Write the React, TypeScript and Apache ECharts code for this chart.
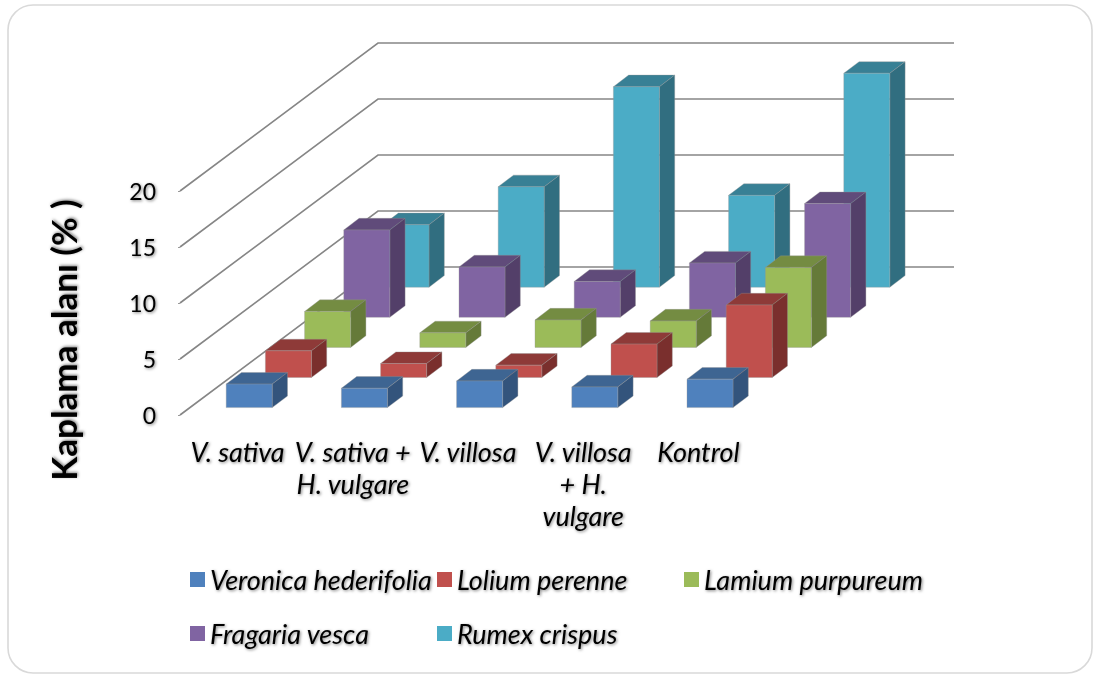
import React, { useEffect, useRef } from "react";
import * as echarts from "echarts";

const categories = [
  "V. sativa",
  "V. sativa +\nH. vulgare",
  "V. villosa",
  "V. villosa\n+ H.\nvulgare",
  "Kontrol",
];
const yTicks = [0, 5, 10, 15, 20];
const seriesNames = [
  "Veronica hederifolia",
  "Lolium perenne",
  "Lamium purpureum",
  "Fragaria vesca",
  "Rumex crispus",
];
const veronica = [2.1, 1.73, 2.38, 1.85, 2.54];
const lolium = [2.38, 1.25, 1.1, 2.98, 6.48];
const lamium = [3.21, 1.3, 2.45, 2.36, 7.14];
const fragaria = [7.8, 4.5, 3.2, 4.85, 10.15];
const rumex = [5.58, 8.97, 17.9, 8.2, 19.1];
const seriesValues = [veronica, lolium, lamium, fragaria, rumex];

const frontColors = ["#4f81bd", "#c0504d", "#9bbb59", "#8064a2", "#4bacc6"];
const topColors = ["#3e6592", "#8e3a38", "#748c42", "#604b7a", "#388095"];
const sideColors = ["#33547c", "#7a2f2d", "#657a39", "#533f69", "#316e80"];

const FONT = "Lato, Carlito, 'Open Sans', sans-serif";
const shadow = {
  textShadowColor: "rgba(0,0,0,0.5)",
  textShadowBlur: 3,
  textShadowOffsetX: 1,
  textShadowOffsetY: 1,
};

// projection of the depth axis, in pixels
const WALL_DX = 198;
const WALL_DY = -148;
const ROW_DX = 39.2;
const ROW_DY = -30.1;
const FIRST_DX = 11.6;
const FIRST_DY = -7.4;
const BAR_W = 46;
const BAR_DX = 15.3;
const BAR_DY = -11.6;

const edge = "rgba(150,150,150,0.35)";

function wallItem(params: any, api: any) {
  const p = api.coord([0, api.value(1)]);
  const x0 = params.coordSys.x;
  const w = params.coordSys.width;
  return {
    type: "polyline",
    silent: true,
    shape: {
      points: [
        [x0, p[1]],
        [x0 + WALL_DX, p[1] + WALL_DY],
        [x0 + WALL_DX + w, p[1] + WALL_DY],
      ],
    },
    style: { stroke: "#868686", lineWidth: 1.6, fill: "none" },
  };
}

function barItem(row: number) {
  return (_params: any, api: any) => {
    const cat = api.value(0);
    const base = api.coord([cat, 0]);
    const top = api.coord([cat, api.value(1)]);
    const xl = base[0] + FIRST_DX + ROW_DX * row - BAR_W / 2;
    const xr = xl + BAR_W;
    const yb = base[1] + FIRST_DY + ROW_DY * row;
    const yt = top[1] + FIRST_DY + ROW_DY * row;
    const poly = (points: number[][], fill: string) => ({
      type: "polygon",
      silent: true,
      shape: { points },
      style: { fill, stroke: edge, lineWidth: 1 },
    });
    return {
      type: "group",
      children: [
        poly(
          [
            [xl, yt],
            [xr, yt],
            [xr + BAR_DX, yt + BAR_DY],
            [xl + BAR_DX, yt + BAR_DY],
          ],
          topColors[row]
        ),
        poly(
          [
            [xr, yt],
            [xr + BAR_DX, yt + BAR_DY],
            [xr + BAR_DX, yb + BAR_DY],
            [xr, yb],
          ],
          sideColors[row]
        ),
        poly(
          [
            [xl, yt],
            [xr, yt],
            [xr, yb],
            [xl, yb],
          ],
          frontColors[row]
        ),
      ],
    };
  };
}

const legendSlots = [
  { left: 190, top: 566 },
  { left: 437, top: 566 },
  { left: 684, top: 566 },
  { left: 190, top: 620 },
  { left: 437, top: 620 },
];

export default function App() {
  const ref = useRef<HTMLDivElement>(null);
  useEffect(() => {
    document.body.style.margin = "0";
    const chart = echarts.init(ref.current!, undefined, { renderer: "svg" });
    chart.setOption({
      animation: false,
      backgroundColor: "#ffffff",
      grid: { left: 180, top: 191, width: 576, height: 224 },
      xAxis: {
        type: "category",
        data: categories,
        axisLine: { show: false },
        axisTick: { show: false },
        axisLabel: {
          interval: 0,
          margin: 20,
          fontFamily: FONT,
          fontStyle: "italic",
          fontSize: 27,
          lineHeight: 32,
          color: "#000",
          ...shadow,
        },
      },
      yAxis: {
        type: "value",
        min: 0,
        max: 20,
        interval: 5,
        name: "Kaplama alanı (% )",
        nameLocation: "middle",
        nameRotate: 90,
        nameGap: 100,
        nameTextStyle: {
          fontFamily: FONT,
          fontWeight: "bold",
          fontSize: 35,
          color: "#000",
          padding: [0, 74, 0, 0],
          ...shadow,
        },
        axisLine: { show: false },
        axisTick: { show: true, length: 2, lineStyle: { color: "#999" } },
        splitLine: { show: false },
        axisLabel: {
          margin: 24,
          fontFamily: FONT,
          fontSize: 23,
          color: "#000",
          padding: [13, 0, 0, 0],
          ...shadow,
        },
      },
      legend: seriesNames.map((name, i) => ({
        data: [name],
        left: legendSlots[i].left,
        top: legendSlots[i].top,
        padding: 0,
        itemWidth: 15,
        itemHeight: 15,
        icon: "rect",
        selectedMode: false,
        textStyle: {
          fontFamily: FONT,
          fontStyle: "italic",
          fontSize: 27,
          color: "#000",
          ...shadow,
        },
      })),
      graphic: [
        {
          type: "rect",
          silent: true,
          z: -1,
          shape: { x: 8, y: 5, width: 1084, height: 668, r: 25 },
          style: { fill: "#fff", stroke: "#d9d9d9", lineWidth: 1.6 },
        },
      ],
      series: [
        {
          type: "custom",
          name: "walls",
          z: 1,
          renderItem: wallItem,
          data: yTicks.map((t) => [0, t]),
          encode: { x: 0, y: 1 },
        },
        ...seriesNames.map((name, row) => ({
          type: "custom",
          name,
          z: 10 - row,
          itemStyle: { color: frontColors[row] },
          renderItem: barItem(row),
          data: seriesValues[row].map((v, i) => [i, v]),
          encode: { x: 0, y: 1 },
        })),
      ],
    });
    return () => chart.dispose();
  }, []);
  return <div ref={ref} style={{ width: 1093, height: 674 }} />;
}
